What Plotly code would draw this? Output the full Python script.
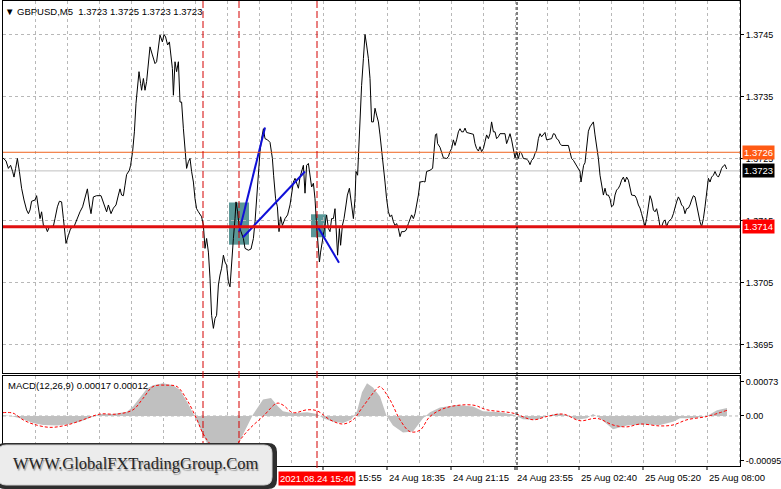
import plotly.graph_objects as go

W, H = 781, 489

# ---------------- data ----------------
# bar position = number of 5-minute bars after 24 Aug 02:35
bar_pos = [0, 1.5, 2.7, 3.8, 4.8, 5.5, 6.3, 7.2, 8.2, 9.3, 10.5, 11.8, 12.7, 13.5, 14.3, 16, 16.8, 17.7, 18.5, 19.3,
           20.2, 21.3, 22.2, 23.2, 25.2, 26, 27.2, 28.2, 29.3, 30.2, 31, 31.5, 32.7, 33.8, 35.5, 36.8, 38.5, 39.8, 41, 42.2,
           43.2, 44, 45.2, 46.8, 49, 50.5, 51.8, 52.7, 54, 55.2, 56.5, 57.7, 58.5, 59.3, 60.2, 61, 61.8, 63.2, 63.8, 64.8,
           65.7, 66.5, 67.2, 68, 68.8, 69.3, 70.2, 71, 71.8, 72.7, 73.5,
           74.7, 76, 76.8, 77.7, 78.5, 79.7, 80.5, 81.3, 82.3, 83.2, 84, 84.7, 85.2, 86, 86.8, 87.7, 88.5, 89.3, 90.2,
           91, 91.8, 92.7, 93.5, 94.3, 95.2, 96, 96.8, 97.7, 98.5, 99.3, 100.2, 101, 101.8, 102.7, 103.5, 104.3, 105.2, 106,
           106.8, 107.7, 108.5, 109.3, 110.2, 111, 111.8, 112.7, 113.5, 114.3, 115.2, 116, 116.5, 117.3, 118, 119, 120.2,
           121, 122.7, 124, 125.2, 126, 126.8, 127.7, 128.5, 129.3, 130.2, 131, 132.3, 133.5, 134.7, 135.3, 136.3, 137.2,
           138, 138.8, 139.7, 141, 142.3, 143.5, 144.3, 145.2,
           146, 146.8, 147.7, 148.5, 149.3, 150.2, 151, 151.8, 152.7, 153.5, 154.3, 155.2, 156, 156.8, 157.7, 158.2, 158.8,
           159.3, 160.2, 161, 161.8, 162.7, 163.5, 164.3, 165.2, 166, 166.8, 167.3, 168.2, 168.8, 169.7, 170.5, 171.5, 172.2,
           173.2, 173.8, 174.7, 175.2, 176, 176.5, 177.3, 177.8, 178.5, 179.3, 180.2, 181, 181.8, 182.7, 183.5, 184.3, 185.2,
           186, 186.8, 187.7, 188.5, 189.3, 190.2, 191, 191.8, 192.7, 193.5, 194.3, 195.2, 196, 196.8, 197.7, 198.5, 199.3,
           200.5, 201.5, 202.7, 203.5, 204.3, 205.2, 206, 206.8, 207.7, 208.5, 210.2, 211, 211.8, 213.5, 214.8, 215.5, 216.2,
           216.8, 217.3, 218.5,
           219.3, 220.2, 221.8, 222.7, 223.5, 224.3, 225.2, 226, 226.8, 227.7, 228.5, 229.3, 230.2, 231, 231.8, 233.5, 235.2,
           236, 236.8, 237.7, 238.5, 239.3, 240.2, 241, 241.8, 242.7, 243.5, 244.3, 245.2, 246, 246.8, 247.7, 248.5, 251,
           251.8, 252.7, 253.5, 254.3, 255.2, 256, 256.8, 257.7, 258.5, 259.3, 260.2, 261.8, 262.7, 263.5, 264.3, 265.2, 266,
           266.8, 267.7, 268.5, 269.3, 270.2, 271, 271.8, 273.5, 274.3, 275.2, 276, 276.8, 277.7, 278.5, 279.3, 282.7, 283.5,
           284.3, 285.2, 286, 286.8, 287.7, 288.5, 289, 289.7, 290.3, 291,
           291.8, 292.7, 293.5, 294.3, 295.2, 296, 296.8, 297.7, 298.5, 299.3, 300.2, 301, 301.8, 302.7, 303.5, 304.3, 305.2,
           306, 306.8, 307.7, 308.5, 309.3, 310.2, 311, 311.8, 312.7, 313.5, 314.3, 316, 316.8, 317.7, 318.5, 319.3, 320.2,
           321, 321.8, 322.7, 323.5, 324.3, 325.2, 326, 326.8, 327.7, 328.5, 329.3, 330.2, 331, 331.8, 332.7, 333.5, 334.3,
           335.2, 336, 336.8, 337.7, 338.5, 339.3, 340.2, 341, 341.8, 342.7, 343.5, 344.3, 345.2, 346, 346.8, 347.7, 348.5,
           349.3, 350.2, 351, 351.8, 352.7, 353.5, 354.3, 355.2, 356, 356.8, 357.7, 358.5, 359.3, 360.2, 361, 361.8]
close = [1.37251, 1.37246, 1.37234, 1.37239, 1.37229, 1.37220, 1.37234, 1.37250, 1.37229, 1.37202, 1.37183, 1.37167,
         1.37161, 1.37167, 1.37181, 1.37183, 1.37190, 1.37172, 1.37153, 1.37164, 1.37142, 1.37140, 1.37132, 1.37140,
         1.37141, 1.37153, 1.37172, 1.37181, 1.37180, 1.37153, 1.37126, 1.37113, 1.37126, 1.37137, 1.37140, 1.37151,
         1.37164, 1.37172, 1.37185, 1.37201, 1.37175, 1.37161, 1.37188, 1.37190, 1.37190, 1.37177, 1.37164, 1.37175,
         1.37161, 1.37170, 1.37175, 1.37191, 1.37201, 1.37191, 1.37190, 1.37207, 1.37224, 1.37231, 1.37239, 1.37261,
         1.37293, 1.37339, 1.37363, 1.37390, 1.37371, 1.37360, 1.37379, 1.37360, 1.37374, 1.37411, 1.37430,
         1.37417, 1.37403, 1.37406, 1.37433, 1.37449, 1.37438, 1.37450, 1.37446, 1.37433, 1.37438, 1.37411, 1.37395,
         1.37352, 1.37406, 1.37390, 1.37406, 1.37341, 1.37341, 1.37298, 1.37261, 1.37234, 1.37245, 1.37250, 1.37229,
         1.37212, 1.37185, 1.37169, 1.37164, 1.37159, 1.37156, 1.37142, 1.37105, 1.37121, 1.37099, 1.37057, 1.36997,
         1.36976, 1.36992, 1.36997, 1.37046, 1.37062, 1.37073, 1.37094, 1.37083, 1.37078, 1.37051, 1.37043, 1.37089,
         1.37121, 1.37153, 1.37180, 1.37164, 1.37142, 1.37132, 1.37121, 1.37105, 1.37102, 1.37104, 1.37121, 1.37148,
         1.37185, 1.37223, 1.37261, 1.37282, 1.37298, 1.37282, 1.37280, 1.37276, 1.37250, 1.37223, 1.37185, 1.37172,
         1.37132, 1.37156, 1.37142, 1.37153, 1.37159, 1.37175, 1.37196, 1.37212,
         1.37218, 1.37210, 1.37202, 1.37220, 1.37229, 1.37239, 1.37194, 1.37239, 1.37242, 1.37223, 1.37204, 1.37210,
         1.37185, 1.37142, 1.37099, 1.37083, 1.37099, 1.37110, 1.37126, 1.37148, 1.37159, 1.37137, 1.37132, 1.37153,
         1.37153, 1.37169, 1.37121, 1.37094, 1.37137, 1.37110, 1.37142, 1.37153, 1.37175, 1.37191, 1.37202, 1.37185,
         1.37164, 1.37153, 1.37185, 1.37229, 1.37223, 1.37261, 1.37315, 1.37368, 1.37411, 1.37450, 1.37433, 1.37411,
         1.37379, 1.37309, 1.37309, 1.37331, 1.37320, 1.37309, 1.37288, 1.37266, 1.37239, 1.37212, 1.37185, 1.37164,
         1.37156, 1.37159, 1.37148, 1.37142, 1.37145, 1.37137, 1.37124, 1.37132, 1.37132, 1.37134, 1.37145, 1.37153,
         1.37159, 1.37153, 1.37161, 1.37175, 1.37191, 1.37212, 1.37213, 1.37212, 1.37229, 1.37231, 1.37234, 1.37261,
         1.37288, 1.37290, 1.37274, 1.37268,
         1.37261, 1.37251, 1.37250, 1.37253, 1.37261, 1.37266, 1.37280, 1.37271, 1.37280, 1.37293, 1.37298, 1.37293,
         1.37293, 1.37299, 1.37292, 1.37290, 1.37289, 1.37274, 1.37266, 1.37262, 1.37269, 1.37261, 1.37266, 1.37277,
         1.37288, 1.37282, 1.37290, 1.37309, 1.37293, 1.37293, 1.37282, 1.37285, 1.37290, 1.37290, 1.37274, 1.37282,
         1.37290, 1.37280, 1.37261, 1.37251, 1.37261, 1.37250, 1.37261, 1.37258, 1.37250, 1.37249, 1.37246, 1.37240,
         1.37247, 1.37250, 1.37258, 1.37263, 1.37282, 1.37290, 1.37285, 1.37288, 1.37292, 1.37280, 1.37281, 1.37282,
         1.37290, 1.37289, 1.37282, 1.37280, 1.37274, 1.37271, 1.37271, 1.37261, 1.37250, 1.37247, 1.37242, 1.37239,
         1.37234, 1.37229, 1.37212, 1.37229, 1.37239, 1.37243,
         1.37266, 1.37294, 1.37301, 1.37304, 1.37309, 1.37288, 1.37271, 1.37250, 1.37223, 1.37207, 1.37191, 1.37202,
         1.37191, 1.37191, 1.37185, 1.37172, 1.37175, 1.37191, 1.37199, 1.37202, 1.37207, 1.37215, 1.37220, 1.37212,
         1.37220, 1.37215, 1.37202, 1.37191, 1.37190, 1.37185, 1.37175, 1.37170, 1.37161, 1.37151, 1.37140, 1.37153,
         1.37175, 1.37190, 1.37183, 1.37167, 1.37164, 1.37169, 1.37156, 1.37140, 1.37140, 1.37148, 1.37151, 1.37140,
         1.37148, 1.37151, 1.37153, 1.37161, 1.37172, 1.37180, 1.37188, 1.37183, 1.37175, 1.37172, 1.37161, 1.37169,
         1.37170, 1.37175, 1.37183, 1.37190, 1.37188, 1.37175, 1.37159, 1.37148, 1.37140, 1.37153, 1.37172, 1.37191,
         1.37218, 1.37212, 1.37220, 1.37223, 1.37229, 1.37223, 1.37220, 1.37226, 1.37234, 1.37238, 1.37240, 1.37233]

# MACD(12,26,9) histogram and signal
macd_pos = [0, 5, 8.5, 15, 20, 27, 32, 38.5, 43.5, 48.5, 55, 62, 65, 68.5, 72, 75, 80, 85, 88.5, 92, 94.5, 97,
            100, 103.5, 108.5, 113.5, 117.5, 122, 125, 130, 134, 137.5, 140, 145, 152, 157, 160, 165, 170, 174, 177,
            179.5, 182, 185, 188.5, 191.8, 195, 200, 205, 210, 213.5, 218.5, 227, 235, 240, 248.5, 255, 260, 267, 272,
            277, 282, 287, 292, 295, 298.5, 305, 312, 320, 328.5, 335, 338.5, 345, 352, 357, 362]
macd_hist = [0.00002, -0.00001, -0.00005, -0.00015, -0.00019, -0.00020, -0.00018, -0.00012, -0.00004, 0.00004,
             0.00004, 0.00009, 0.00020, 0.00040, 0.00058, 0.00065, 0.00069, 0.00065, 0.00055, 0.00030, 0.00010,
             -0.00010, -0.00040, -0.00070, -0.00092, -0.00085, -0.00060, -0.00020, 0.00003, 0.00035, 0.00038,
             0.00020, 0.00010, 0.00006, 0.00008, 0.00004, -0.00005, -0.00012, -0.00015, -0.00008, 0.00010, 0.00050,
             0.00069, 0.00060, 0.00041, 0.0, -0.00020, -0.00035, -0.00033, -0.00005, 0.00008, 0.00018, 0.00023,
             0.00020, 0.00010, 0.00008, 0.00003, -0.00007, -0.00008, 0.0, 0.00005, 0.00002, -0.00008, -0.00005,
             0.00004, -0.00005, -0.00028, -0.00020, -0.00018, -0.00019, -0.00012, -0.00005, -0.00005, 0.0, 0.00012,
             0.00017]
signal_pos = [0, 5, 10, 15, 23.5, 32, 40, 48.5, 57, 65, 70, 75, 82, 87, 92, 97, 100, 104, 110, 115, 118.5, 123.5,
              130, 137, 140, 145, 152, 157, 163.5, 170, 175, 180, 187, 188.5, 193.5, 198.5, 203.5, 208.5, 213.5, 222,
              235, 242, 255, 265, 272, 280, 288.5, 297, 305, 312, 318.5, 328.5, 335, 342, 352, 362]
macd_signal = [0.00007, 0.00006, -0.00008, -0.00017, -0.00024, -0.00019, -0.00008, 0.00004, 0.00004, 0.00013,
               0.00037, 0.00062, 0.00065, 0.00062, 0.00034, -0.00008, -0.00037, -0.00061, -0.00080, -0.00075,
               -0.00051, -0.00026, -0.00001, 0.00027, 0.00023, 0.00007, 0.00013, 0.00011, -0.00008, -0.00017,
               -0.00008, 0.00020, 0.00058, 0.00062, 0.00034, -0.00008, -0.00033, -0.00030, -0.00001, 0.00018,
               0.00023, 0.00013, 0.00006, -0.00008, -0.00001, 0.00004, -0.00010, -0.00005, -0.00019, -0.00023,
               -0.00017, -0.00021, -0.00019, -0.00008, -0.00001, 0.00012]

price_ticks = [1.3695, 1.3705, 1.3715, 1.3725, 1.3735, 1.3745]
price_tick_text = ["1.3695", "1.3705", "1.3715", "1.3725", "1.3735", "1.3745"]
macd_ticks = [0.00073, 0.0, -0.00095]
macd_tick_text = ["0.00073", "0.00", "-0.00095"]
# time-axis labels that are visible (earlier ones sit under the watermark / event label)
time_tick_pos = [160, 192, 224, 256, 288, 320, 352]
time_tick_text = ["15:55", "24 Aug 18:35", "24 Aug 21:15", "24 Aug 23:55", "25 Aug 02:40",
                  "25 Aug 05:20", "25 Aug 08:00"]
time_tick_shift = [33, 0, 0, 0, 0, 0, 0]   # px: the '24 Aug ' part of 15:55 is hidden by the event label

level_resistance = 1.3726   # orange line
level_bid = 1.3723          # grey bid line
level_support = 1.3714      # thick red line
event_bars = [100, 118, 157]          # red dashed verticals
event_label = "2021.08.24 15:40"
day_break_bar = 257                   # 25 Aug 00:00 separator

zone_x0 = [113, 154]
zone_x1 = [123, 161.5]
zone_low = [1.37111, 1.37123]
zone_high = [1.37179, 1.37160]

trend_x0 = [118, 120, 157.5]
trend_p0 = [1.37131, 1.37123, 1.37139]
trend_x1 = [131, 151, 168]
trend_p1 = [1.37300, 1.37229, 1.37082]

title_text = "GBPUSD,M5  1.3723 1.3725 1.3723 1.3723"
macd_text = "MACD(12,26,9) 0.00017 0.00012"
watermark = "WWW.GlobalFXTradingGroup.Com"

# ---------------- layout helpers ----------------
def px(x):
    return x / W


def py(y):
    return 1 - y / H


FONT = "Liberation Sans"
TICK_FONT = dict(family=FONT, size=9, color="black")
GRID = "#b8b8b8"
X_RANGE = [0, 368.5]
X_DOM = [px(3), px(740)]
MAIN_DOM = [py(373), py(1)]
MACD_DOM = [py(466), py(376)]

fig = go.Figure()

fig.add_trace(go.Scatter(x=bar_pos, y=close, mode="lines", line=dict(color="black", width=1),
                         xaxis="x", yaxis="y", hoverinfo="skip"))
for a, b, c, d in zip(trend_x0, trend_p0, trend_x1, trend_p1):
    fig.add_trace(go.Scatter(x=[a, c], y=[b, d], mode="lines", line=dict(color="#1010d8", width=2),
                             xaxis="x", yaxis="y", hoverinfo="skip"))

fig.add_trace(go.Scatter(x=macd_pos, y=macd_hist, mode="lines", line=dict(color="#c0c0c0", width=0),
                         fill="tozeroy", fillcolor="#c0c0c0", xaxis="x2", yaxis="y2", hoverinfo="skip"))
fig.add_trace(go.Scatter(x=signal_pos, y=macd_signal, mode="lines",
                         line=dict(color="#ff0000", width=1, dash="3px,2px", shape="spline"),
                         xaxis="x2", yaxis="y2", hoverinfo="skip"))

shapes = []
for a, b, lo, hi in zip(zone_x0, zone_x1, zone_low, zone_high):
    shapes.append(dict(type="rect", xref="x", yref="y", x0=a, x1=b, y0=lo, y1=hi,
                       fillcolor="#5a9898", line=dict(width=0), layer="below"))
shapes.append(dict(type="line", xref="x2", yref="y2", x0=X_RANGE[0], x1=X_RANGE[1], y0=0, y1=0,
                   line=dict(color=GRID, width=1, dash="3px,3px"), layer="below"))
shapes.append(dict(type="line", xref="x", yref="y", x0=X_RANGE[0], x1=X_RANGE[1], y0=level_bid, y1=level_bid,
                   line=dict(color="#c0c0c0", width=1), layer="below"))
shapes.append(dict(type="line", xref="x", yref="y", x0=X_RANGE[0], x1=X_RANGE[1], y0=level_resistance,
                   y1=level_resistance, line=dict(color="#f0641e", width=1), layer="above"))
shapes.append(dict(type="line", xref="x", yref="y", x0=X_RANGE[0], x1=X_RANGE[1], y0=level_support,
                   y1=level_support, line=dict(color="#e01010", width=3), layer="above"))
for b in event_bars:
    shapes.append(dict(type="line", xref="x", yref="paper", x0=b, x1=b, y0=py(468), y1=py(1),
                       line=dict(color="#d40000", width=1, dash="7px,3px"), layer="above"))
shapes.append(dict(type="line", xref="x", yref="paper", x0=day_break_bar, x1=day_break_bar, y0=py(470), y1=py(1),
                   line=dict(color="black", width=1, dash="3px,2px"), layer="above"))


def rr(x0, y0, x1, y1, r):
    pts = [
        f"M{px(x0 + r)},{py(y0)}", f"L{px(x1 - r)},{py(y0)}", f"Q{px(x1)},{py(y0)} {px(x1)},{py(y0 + r)}",
        f"L{px(x1)},{py(y1 - r)}", f"Q{px(x1)},{py(y1)} {px(x1 - r)},{py(y1)}", f"L{px(x0 + r)},{py(y1)}",
        f"Q{px(x0)},{py(y1)} {px(x0)},{py(y1 - r)}", f"L{px(x0)},{py(y0 + r)}",
        f"Q{px(x0)},{py(y0)} {px(x0 + r)},{py(y0)}", "Z"]
    return " ".join(pts)


shapes.append(dict(type="path", xref="paper", yref="paper", path=rr(-4, 443, 277, 489, 9),
                   fillcolor="#2e2e2e", line=dict(width=0), layer="above"))
shapes.append(dict(type="path", xref="paper", yref="paper", path=rr(-2, 445, 272, 485, 8),
                   fillcolor="#ececec", line=dict(color="#d0d0d0", width=1), layer="above"))
# small tick marks under the time labels
for pos in time_tick_pos:
    shapes.append(dict(type="line", xref="x", yref="paper", x0=pos, x1=pos, y0=py(466), y1=py(470),
                       line=dict(color="black", width=1), layer="above"))

annotations = []
for pos, txt, sh in zip(time_tick_pos, time_tick_text, time_tick_shift):
    annotations.append(dict(xref="x2", yref="paper", x=pos, y=py(477), xanchor="left", yanchor="middle",
                            xshift=sh, showarrow=False, text=txt, font=dict(family=FONT, size=9.5, color="black")))
annotations += [
    dict(xref="paper", yref="paper", x=px(3), y=py(11), xanchor="left", yanchor="middle", showarrow=False,
         text="▼ " + title_text, font=dict(family=FONT, size=9.5, color="black")),
    dict(xref="paper", yref="paper", x=px(6), y=py(385), xanchor="left", yanchor="middle", showarrow=False,
         text=macd_text, font=dict(family=FONT, size=9.5, color="black")),
    dict(xref="paper", yref="y", x=px(741.5), y=level_resistance, xanchor="left", yanchor="middle", showarrow=False,
         text=f"{level_resistance:.4f}", bgcolor="#ff5a14", borderpad=1, font=dict(family=FONT, size=9.5, color="white")),
    dict(xref="paper", yref="y", x=px(741.5), y=level_bid, xanchor="left", yanchor="middle", showarrow=False,
         text=f"{level_bid:.4f}", bgcolor="black", borderpad=1, font=dict(family=FONT, size=9.5, color="white")),
    dict(xref="paper", yref="y", x=px(741.5), y=level_support, xanchor="left", yanchor="middle", showarrow=False,
         text=f"{level_support:.4f}", bgcolor="#ff0000", borderpad=1, font=dict(family=FONT, size=9.5, color="white")),
    dict(xref="x2", yref="paper", x=event_bars[-1], y=py(478.5), xanchor="center", yanchor="middle", showarrow=False,
         text=event_label, bgcolor="#ff0000", borderpad=1, font=dict(family=FONT, size=9.5, color="white")),
    dict(xref="paper", yref="paper", x=px(136), y=py(463.5), xanchor="center", yanchor="middle", showarrow=False,
         text=watermark, font=dict(family="Liberation Serif", size=16.5, color="#262626",
                                   shadow="1px 2px 1px #9a9a9a")),
]

axis_common = dict(showline=True, linecolor="black", linewidth=1, mirror=True, zeroline=False)
grid_x = dict(showgrid=True, gridcolor=GRID, griddash="3px,3px", gridwidth=1,
              tickvals=list(range(0, 369, 16)))

fig.update_layout(
    width=W, height=H, margin=dict(l=0, r=0, t=0, b=0, autoexpand=False),
    paper_bgcolor="white", plot_bgcolor="white", showlegend=False,
    font=dict(family=FONT, size=9.5, color="black"),
    xaxis=dict(domain=X_DOM, anchor="y", range=X_RANGE, showticklabels=False, ticks="", **grid_x, **axis_common),
    yaxis=dict(domain=MAIN_DOM, anchor="x", side="right", range=[1.36904, 1.37504], tickvals=price_ticks,
               ticktext=price_tick_text, ticks="outside", ticklen=3, tickcolor="black",
               showgrid=True, gridcolor=GRID, griddash="3px,3px", tickfont=TICK_FONT,
               **axis_common),
    xaxis2=dict(domain=X_DOM, anchor="y2", range=X_RANGE, showticklabels=False, ticks="", **grid_x,
                **axis_common),
    yaxis2=dict(domain=MACD_DOM, anchor="x2", side="right", range=[-0.001056, 0.000844], tickvals=macd_ticks,
                ticktext=macd_tick_text, ticks="outside", ticklen=3, tickcolor="black", showgrid=False,
                tickfont=TICK_FONT, **axis_common),
    shapes=shapes, annotations=annotations,
)

fig.write_html("out.html", config={"displayModeBar": False},
               post_script="document.body.style.margin='0';document.body.style.padding='0';")
